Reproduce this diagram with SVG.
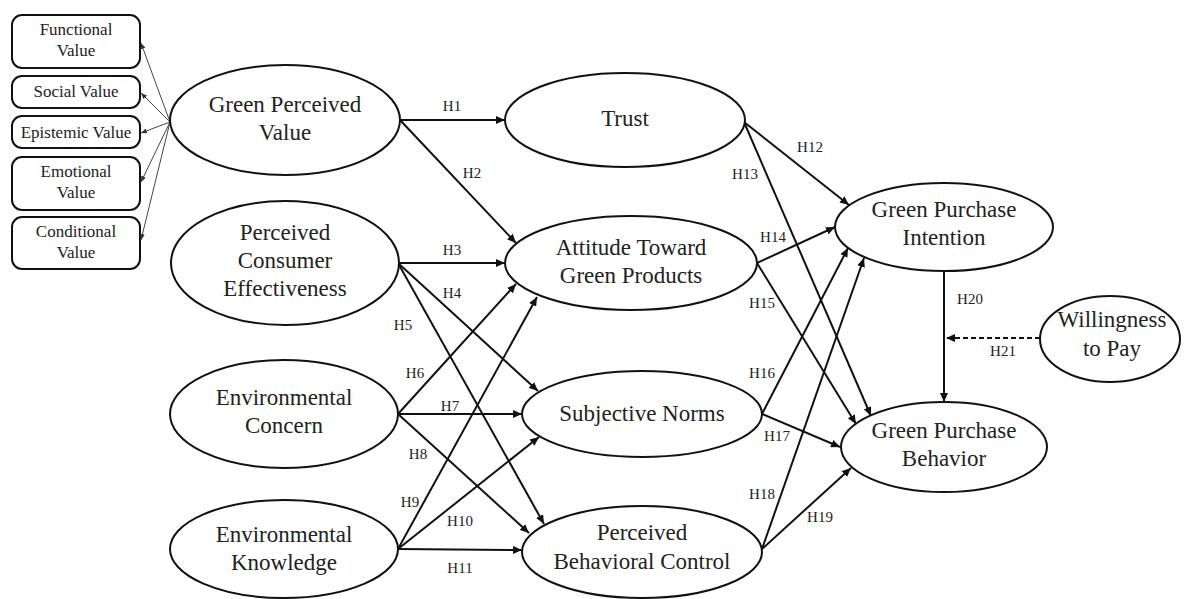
<svg xmlns="http://www.w3.org/2000/svg" width="1184" height="599" viewBox="0 0 1184 599">
<style>
.el{fill:#fff;stroke:#111;stroke-width:2}
.bx{fill:#fff;stroke:#111;stroke-width:2}
.t{font-family:"Liberation Serif","Times New Roman",serif;font-size:23px;fill:#222;text-anchor:middle}
.bt{font-family:"Liberation Serif","Times New Roman",serif;font-size:17px;fill:#222;text-anchor:middle}
.lb{font-family:"Liberation Serif","Times New Roman",serif;font-size:15px;fill:#222;text-anchor:middle}
.c{stroke:#111;stroke-width:2;fill:none;marker-end:url(#ah)}
.cs{stroke:#444;stroke-width:1;fill:none;marker-end:url(#as)}
.cd{stroke:#111;stroke-width:2;fill:none;stroke-dasharray:5,3;marker-end:url(#ah)}
</style>
<defs>
<marker id="ah" viewBox="0 0 9 8" refX="9" refY="4" markerWidth="9" markerHeight="8" markerUnits="userSpaceOnUse" orient="auto">
<path d="M0,0 L9,4 L0,8 z" fill="#111"/>
</marker>
<marker id="as" viewBox="0 0 6 5" refX="6" refY="2.5" markerWidth="6" markerHeight="5" markerUnits="userSpaceOnUse" orient="auto">
<path d="M0,0 L6,2.5 L0,5 z" fill="#333"/>
</marker>
</defs>
<rect width="1184" height="599" fill="#fff"/>

<g id="box-functional"><rect class="bx" x="12" y="15" width="128" height="53" rx="10"/><text class="bt" x="76" y="35">Functional</text><text class="bt" x="76" y="56">Value</text></g>
<g id="box-social"><rect class="bx" x="12" y="76" width="128" height="32" rx="10"/><text class="bt" x="76" y="97">Social Value</text></g>
<g id="box-epistemic"><rect class="bx" x="12" y="116" width="128" height="32" rx="10"/><text class="bt" x="76" y="138">Epistemic Value</text></g>
<g id="box-emotional"><rect class="bx" x="12" y="157" width="128" height="53" rx="10"/><text class="bt" x="76" y="177">Emotional</text><text class="bt" x="76" y="198">Value</text></g>
<g id="box-conditional"><rect class="bx" x="12" y="217" width="128" height="52" rx="10"/><text class="bt" x="76" y="237">Conditional</text><text class="bt" x="76" y="258">Value</text></g>

<g id="connectors">
<line class="cs" x1="170" y1="122" x2="141" y2="43"/>
<line class="cs" x1="170" y1="122" x2="141" y2="93"/>
<line class="cs" x1="170" y1="122" x2="141" y2="133"/>
<line class="cs" x1="170" y1="122" x2="141" y2="182"/>
<line class="cs" x1="170" y1="122" x2="141" y2="240"/>

<line class="c" x1="400" y1="120" x2="505" y2="120"/>
<line class="c" x1="400" y1="120" x2="516" y2="243"/>
<line class="c" x1="398" y1="263" x2="505" y2="263"/>
<line class="c" x1="398" y1="263" x2="538" y2="391"/>
<line class="c" x1="398" y1="263" x2="544" y2="524"/>
<line class="c" x1="398" y1="414" x2="516" y2="284"/>
<line class="c" x1="398" y1="414" x2="522" y2="414"/>
<line class="c" x1="398" y1="414" x2="529" y2="533"/>
<line class="c" x1="398" y1="549" x2="537" y2="297"/>
<line class="c" x1="398" y1="549" x2="539" y2="437"/>
<line class="c" x1="398" y1="549" x2="522" y2="550"/>

<line class="c" x1="744" y1="122" x2="849" y2="205"/>
<line class="c" x1="744" y1="122" x2="871" y2="416"/>
<line class="c" x1="757" y1="263" x2="835" y2="227"/>
<line class="c" x1="757" y1="263" x2="856" y2="424"/>
<line class="c" x1="762" y1="414" x2="848" y2="248"/>
<line class="c" x1="762" y1="414" x2="840" y2="447"/>
<line class="c" x1="762" y1="549" x2="864" y2="258"/>
<line class="c" x1="762" y1="549" x2="851" y2="468"/>
<line class="c" x1="944" y1="271" x2="944" y2="402"/>
<line class="cd" x1="1040" y1="338" x2="946" y2="338"/>

<text class="lb" x="452" y="111">H1</text>
<text class="lb" x="472" y="178">H2</text>
<text class="lb" x="452" y="255">H3</text>
<text class="lb" x="452" y="298">H4</text>
<text class="lb" x="403" y="330">H5</text>
<text class="lb" x="415" y="378">H6</text>
<text class="lb" x="450" y="411">H7</text>
<text class="lb" x="418" y="459">H8</text>
<text class="lb" x="410" y="507">H9</text>
<text class="lb" x="460" y="526">H10</text>
<text class="lb" x="460" y="573">H11</text>
<text class="lb" x="810" y="152">H12</text>
<text class="lb" x="745" y="179">H13</text>
<text class="lb" x="773" y="242">H14</text>
<text class="lb" x="762" y="308">H15</text>
<text class="lb" x="762" y="378">H16</text>
<text class="lb" x="777" y="441">H17</text>
<text class="lb" x="762" y="499">H18</text>
<text class="lb" x="820" y="522">H19</text>
<text class="lb" x="970" y="304">H20</text>
<text class="lb" x="1003" y="356">H21</text>
</g>

<g id="gpv"><ellipse class="el" cx="285" cy="120" rx="115" ry="55"/><text class="t" x="285" y="112">Green Perceived</text><text class="t" x="285" y="140">Value</text></g>
<g id="pce"><ellipse class="el" cx="285" cy="263" rx="114" ry="62"/><text class="t" x="285" y="240">Perceived</text><text class="t" x="285" y="268">Consumer</text><text class="t" x="285" y="296">Effectiveness</text></g>
<g id="ec"><ellipse class="el" cx="284" cy="414" rx="114" ry="54"/><text class="t" x="284" y="405">Environmental</text><text class="t" x="284" y="433">Concern</text></g>
<g id="ek"><ellipse class="el" cx="284" cy="549" rx="114" ry="49"/><text class="t" x="284" y="542">Environmental</text><text class="t" x="284" y="570">Knowledge</text></g>

<g id="trust"><ellipse class="el" cx="625" cy="120" rx="120" ry="47"/><text class="t" x="625" y="126">Trust</text></g>
<g id="attitude"><ellipse class="el" cx="631" cy="263" rx="126" ry="47"/><text class="t" x="631" y="255">Attitude Toward</text><text class="t" x="631" y="283">Green Products</text></g>
<g id="sn"><ellipse class="el" cx="642" cy="414" rx="120" ry="43"/><text class="t" x="642" y="421">Subjective Norms</text></g>
<g id="pbc"><ellipse class="el" cx="642" cy="552" rx="120" ry="46"/><text class="t" x="642" y="540">Perceived</text><text class="t" x="642" y="569">Behavioral Control</text></g>

<g id="gpi"><ellipse class="el" cx="944" cy="227" rx="109" ry="44"/><text class="t" x="944" y="217">Green Purchase</text><text class="t" x="944" y="245">Intention</text></g>
<g id="gpb"><ellipse class="el" cx="944" cy="447" rx="103" ry="45"/><text class="t" x="944" y="438">Green Purchase</text><text class="t" x="944" y="466">Behavior</text></g>
<g id="wtp"><ellipse class="el" cx="1110" cy="339" rx="70" ry="43"/><text class="t" x="1112" y="327">Willingness</text><text class="t" x="1112" y="356">to Pay</text></g>
</svg>
